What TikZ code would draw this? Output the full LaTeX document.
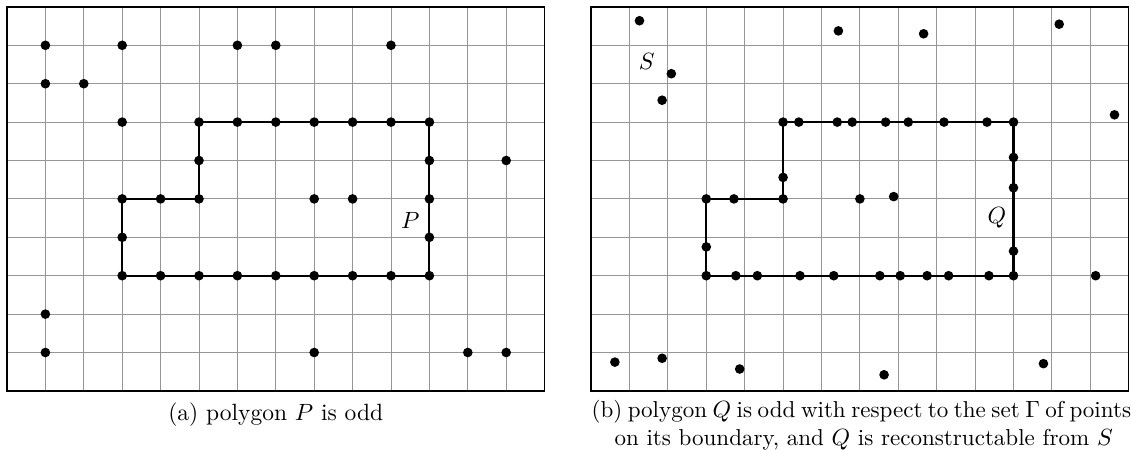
\documentclass[tikz,border=0pt]{standalone}
\usetikzlibrary{positioning}
\newlength\cellsz
\setlength\cellsz{16.34pt}
\definecolor{gridGray}{RGB}{150,150,150}
\tikzset{
  gridline/.style={draw=gridGray, line width=0.4pt},
  frame/.style={draw=black, line width=0.6pt},
  poly/.style={draw=black, line width=0.9pt},
  pt/.style={circle, fill=black, inner sep=0pt, minimum size=4.1pt},
  lbl/.style={font=\normalsize, inner sep=0pt},
  capt/.style={font=\normalsize, inner sep=0pt},
}
\begin{document}
\begin{tikzpicture}[x=\cellsz, y=\cellsz]
  \useasboundingbox (-0.182,-1.536) rectangle (29.27,10.18);
  % (a) polygon P
  \begin{scope}
    \draw[gridline] (0,0) grid[step=1] (14,10);
    \draw[frame] (0,0) rectangle (14,10);
    \coordinate (P1) at (3,3);
    \coordinate (P2) at (11,3);
    \coordinate (P3) at (11,7);
    \coordinate (P4) at (5,7);
    \coordinate (P5) at (5,5);
    \coordinate (P6) at (3,5);
    \draw[poly] (P1) -- (P2) -- (P3) -- (P4) -- (P5) -- (P6) -- cycle;
    \foreach \x/\y [count=\n] in {1/9,3/9,6/9,7/9,10/9,1/8,2/8,
        3/7,5/7,6/7,7/7,8/7,9/7,10/7,11/7,5/6,11/6,13/6,
        3/5,4/5,5/5,8/5,9/5,11/5,3/4,11/4,
        3/3,4/3,5/3,6/3,7/3,8/3,9/3,10/3,11/3,
        1/2,1/1,8/1,12/1,13/1}
      \node[pt] (a\n) at (\x,\y) {};
    \node[lbl] (labP) at (10.5,4.43) {$P$};
    \node[capt, anchor=base] (capA) at (7,-0.76) {(a) polygon $P$ is odd};
  \end{scope}
  % (b) polygon Q and the set S
  \begin{scope}[shift={(15.21,0)}]
    \draw[gridline] (0,0) grid[step=1] (14,10);
    \draw[frame] (0,0) rectangle (14,10);
    \coordinate (Q1) at (3,3);
    \coordinate (Q2) at (11,3);
    \coordinate (Q3) at (11,7);
    \coordinate (Q4) at (5,7);
    \coordinate (Q5) at (5,5);
    \coordinate (Q6) at (3,5);
    \draw[poly] (Q1) -- (Q2) -- (Q3) -- (Q4) -- (Q5) -- (Q6) -- cycle;
    % points on the boundary
    \foreach \x/\y [count=\n] in {5/7,5.41/7,6.41/7,6.8/7,7.67/7,8.26/7,9.19/7,10.31/7,11/7,
        11/6.08,11/5.29,11/3.64,11/3,
        3/3,3.77/3,4.33/3,5.44/3,6.32/3,7.52/3,8.05/3,8.75/3,9.31/3,10.36/3,
        3/3.75,3/5,3.72/5,5/5,5/5.56}
      \node[pt] (g\n) at (\x,\y) {};
    % remaining points
    \foreach \x/\y [count=\n] in {7/5,7.88/5.06,1.26/9.64,6.44/9.375,8.66/9.3,12.19/9.55,
        2.09/8.26,1.85/7.57,13.63/7.19,13.14/3,0.62/0.75,1.85/0.85,3.87/0.57,
        7.63/0.42,11.78/0.71}
      \node[pt] (s\n) at (\x,\y) {};
    \node[lbl] (labS) at (1.45,8.58) {$S$};
    \node[lbl] (labQ) at (10.57,4.5) {$Q$};
    \node[capt, anchor=north west, text width=14.05\cellsz, align=left] (capB) at (0,-0.22)
      {\fontsize{9.8}{9.6}\selectfont
       \spaceskip=0.333em plus 0.166em minus 0.14em
       \hbox to \hsize{(b) polygon $Q$ is odd with respect to the set $\Gamma$ of points}\\
       \hspace*{1em}on its boundary, and $Q$ is reconstructable from $S$};
  \end{scope}
\end{tikzpicture}
\end{document}
